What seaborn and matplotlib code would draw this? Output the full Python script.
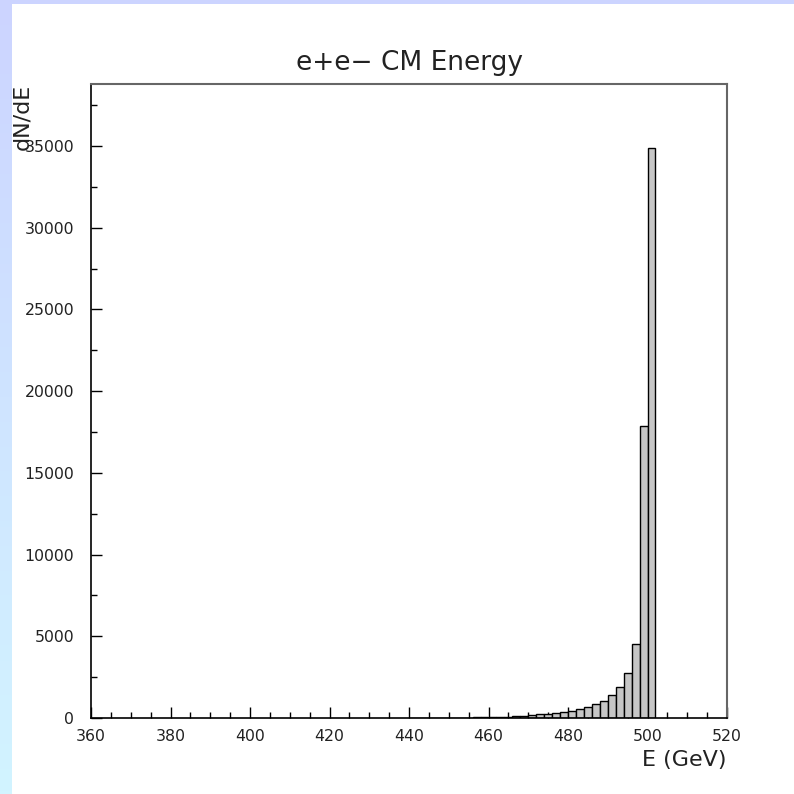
import numpy as np
import pandas as pd
import seaborn as sns
import matplotlib.pyplot as plt
from matplotlib.colors import LinearSegmentedColormap

# 2 GeV bins, lower edges from 440 to 500
bin_lo = list(range(440, 502, 2))
counts = [0, 0, 0, 5, 10, 15, 20, 25, 35, 45,
          55, 60, 80, 110, 150, 180, 220, 260, 300, 370,
          450, 550, 660, 850, 1060, 1400, 1870, 2740, 4500, 17850,
          34900]

df = pd.DataFrame({'E': np.array(bin_lo) + 1.0, 'n': counts})

sns.set_style('white')
plt.rcParams['font.family'] = ['DejaVu Sans']
plt.rcParams['text.color'] = 'black'
plt.rcParams['xtick.color'] = 'black'
plt.rcParams['ytick.color'] = 'black'

fig = plt.figure(figsize=(7.94, 7.94), dpi=100)

# light blue frame strips (left gradient + top)
bg = fig.add_axes([0, 0, 12 / 794, 1])
grad = np.linspace(0, 1, 256).reshape(-1, 1)
cmap = LinearSegmentedColormap.from_list('bgstrip', ['#ccd4ff', '#d2f4ff'])
bg.imshow(grad, aspect='auto', cmap=cmap, extent=[0, 1, 0, 1], origin='upper')
bg.set_axis_off()
top = fig.add_axes([0, 1 - 4 / 794, 1, 4 / 794])
top.set_facecolor('#ccd4ff')
top.set_xticks([])
top.set_yticks([])
for s in top.spines.values():
    s.set_visible(False)

ax = fig.add_axes([91 / 794, 1 - 718 / 794, 636 / 794, 634 / 794])

sns.histplot(data=df, x='E', weights='n', binwidth=2, binrange=(440, 502),
             element='bars', stat='count', color='#c6c6c6', alpha=1.0,
             edgecolor='black', linewidth=1.0, ax=ax)

ax.set_xlim(360, 520)
ax.set_ylim(0, 38800)
ax.set_xticks(range(360, 521, 20))
ax.set_xticks(range(360, 521, 5), minor=True)
ax.set_yticks(range(0, 35001, 5000))
ax.set_yticks(range(0, 38801, 2500), minor=True)
ax.tick_params(which='major', direction='in', length=8, width=1.0,
               labelsize=11.3, pad=8, bottom=True, left=True,
               labelcolor='#222222')
ax.tick_params(which='minor', direction='in', length=4.5, width=1.0,
               bottom=True, left=True)
ax.tick_params(axis='y', pad=12)

ax.set_xlabel('')
ax.set_ylabel('')
ax.text(1.0, -0.066, 'E (GeV)', transform=ax.transAxes, ha='right',
        va='center', fontsize=16, color='#222222')
ax.text(-0.108, 1.0, 'dN/dE', transform=ax.transAxes, ha='center',
        va='top', rotation=90, fontsize=16, color='#222222')
ax.set_title('e+e\u2212 CM Energy', fontsize=19, pad=10, color='#222222')

for side in ['left', 'bottom']:
    ax.spines[side].set_color('black')
    ax.spines[side].set_linewidth(1.2)
for side in ['top', 'right']:
    ax.spines[side].set_color('#666666')
    ax.spines[side].set_linewidth(1.5)

fig.savefig('out.png', dpi=100)
